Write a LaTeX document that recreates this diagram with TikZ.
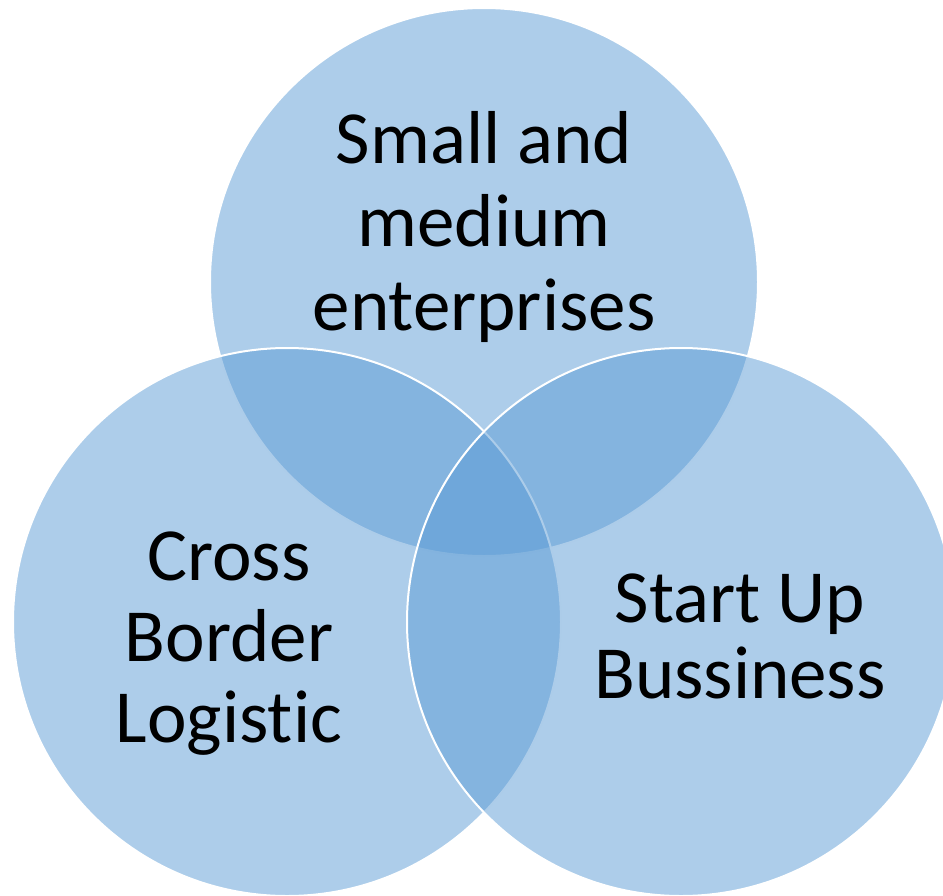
\documentclass[tikz,border=0pt]{standalone}
\usepackage{fontspec}
\setmainfont{Carlito}[Ligatures={NoCommon}]
\definecolor{vennblue}{RGB}{91,155,213}
\begin{document}
\begin{tikzpicture}[x=1pt,y=-1pt,
  venn/.style={fill=vennblue,fill opacity=0.5,draw=white,line width=2pt},
  lbl/.style={text=black,align=center,anchor=base,inner sep=0pt,
    font=\fontsize{75}{83.5}\selectfont}]
  \useasboundingbox (0,0) rectangle (943,895);
  % three overlapping circles, drawn top, left, right
  \path[venn] (484,282) circle[radius=274];
  \path[venn] (287,622) circle[radius=274];
  \path[venn] (681,622) circle[radius=274];
  % circle labels (anchored at the baseline of the last line)
  \node[lbl] (sme) at (484,330) {Small and\\medium\\enterprises};
  \node[lbl,font=\fontsize{75}{81}\selectfont] (cbl) at (229,742) {Cross\\Border\\Logistic};
  \node[lbl,font=\fontsize{75}{76}\selectfont] (sub) at (740,698) {Start Up\\Bussiness};
\end{tikzpicture}
\end{document}
